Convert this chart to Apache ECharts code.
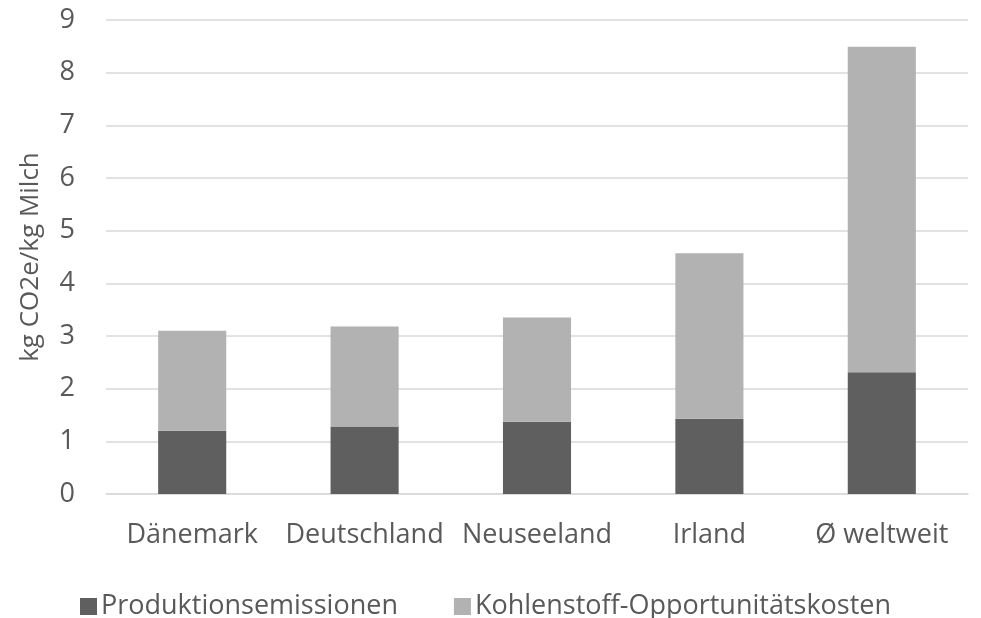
<!DOCTYPE html>
<html>
<head>
<meta charset="utf-8">
<script src="https://cdn.jsdelivr.net/npm/echarts@6/dist/echarts.min.js"></script>
<style>
  html, body { margin: 0; padding: 0; background: #fff; }
  #chart { width: 981px; height: 618px; }
</style>
</head>
<body>
<div id="chart"></div>
<script>
// Milk carbon footprint per country, split into production emissions and carbon opportunity costs
const countries = ['Dänemark', 'Deutschland', 'Neuseeland', 'Irland', 'Ø weltweit'];
const productionEmissions = [1.2, 1.28, 1.37, 1.43, 2.31];
const opportunityCosts = [1.9, 1.9, 1.98, 3.14, 6.18];
const seriesNames = ['Produktionsemissionen', 'Kohlenstoff-Opportunitätskosten'];
const yAxisTitle = 'kg CO2e/kg Milch';

const textColor = '#595959';
const fontFamily = '"Open Sans", Lato, sans-serif';

const chart = echarts.init(document.getElementById('chart'));
chart.setOption({
  backgroundColor: '#ffffff',
  animation: false,
  textStyle: { fontFamily: fontFamily, color: textColor },
  grid: { left: 106, right: 13, top: 20, bottom: 124, containLabel: false },
  legend: {
    data: seriesNames,
    left: 75,
    top: 588,
    itemWidth: 17,
    itemHeight: 17,
    itemGap: 56,
    icon: 'rect',
    textStyle: { fontFamily: fontFamily, fontSize: 27, color: textColor, padding: [0, 0, 0, -1] }
  },
  xAxis: {
    type: 'category',
    data: countries,
    axisLine: { show: true, lineStyle: { color: '#d9d9d9', width: 1.5 } },
    axisTick: { show: false },
    axisLabel: { fontSize: 27, color: textColor, margin: 28, interval: 0 }
  },
  yAxis: {
    type: 'value',
    min: 0,
    max: 9,
    interval: 1,
    name: yAxisTitle,
    nameLocation: 'middle',
    nameGap: 62,
    nameTextStyle: { fontSize: 26, color: textColor, fontFamily: fontFamily },
    axisLine: { show: false },
    axisTick: { show: false },
    axisLabel: { fontSize: 27, color: textColor, margin: 31 },
    splitLine: { lineStyle: { color: '#d9d9d9', width: 1.5 } }
  },
  series: [
    {
      name: seriesNames[0],
      type: 'bar',
      stack: 'total',
      barWidth: '39.5%',
      itemStyle: { color: '#5f5f5f' },
      data: productionEmissions
    },
    {
      name: seriesNames[1],
      type: 'bar',
      stack: 'total',
      barWidth: '39.5%',
      itemStyle: { color: '#b2b2b2' },
      data: opportunityCosts
    }
  ]
});
</script>
</body>
</html>
